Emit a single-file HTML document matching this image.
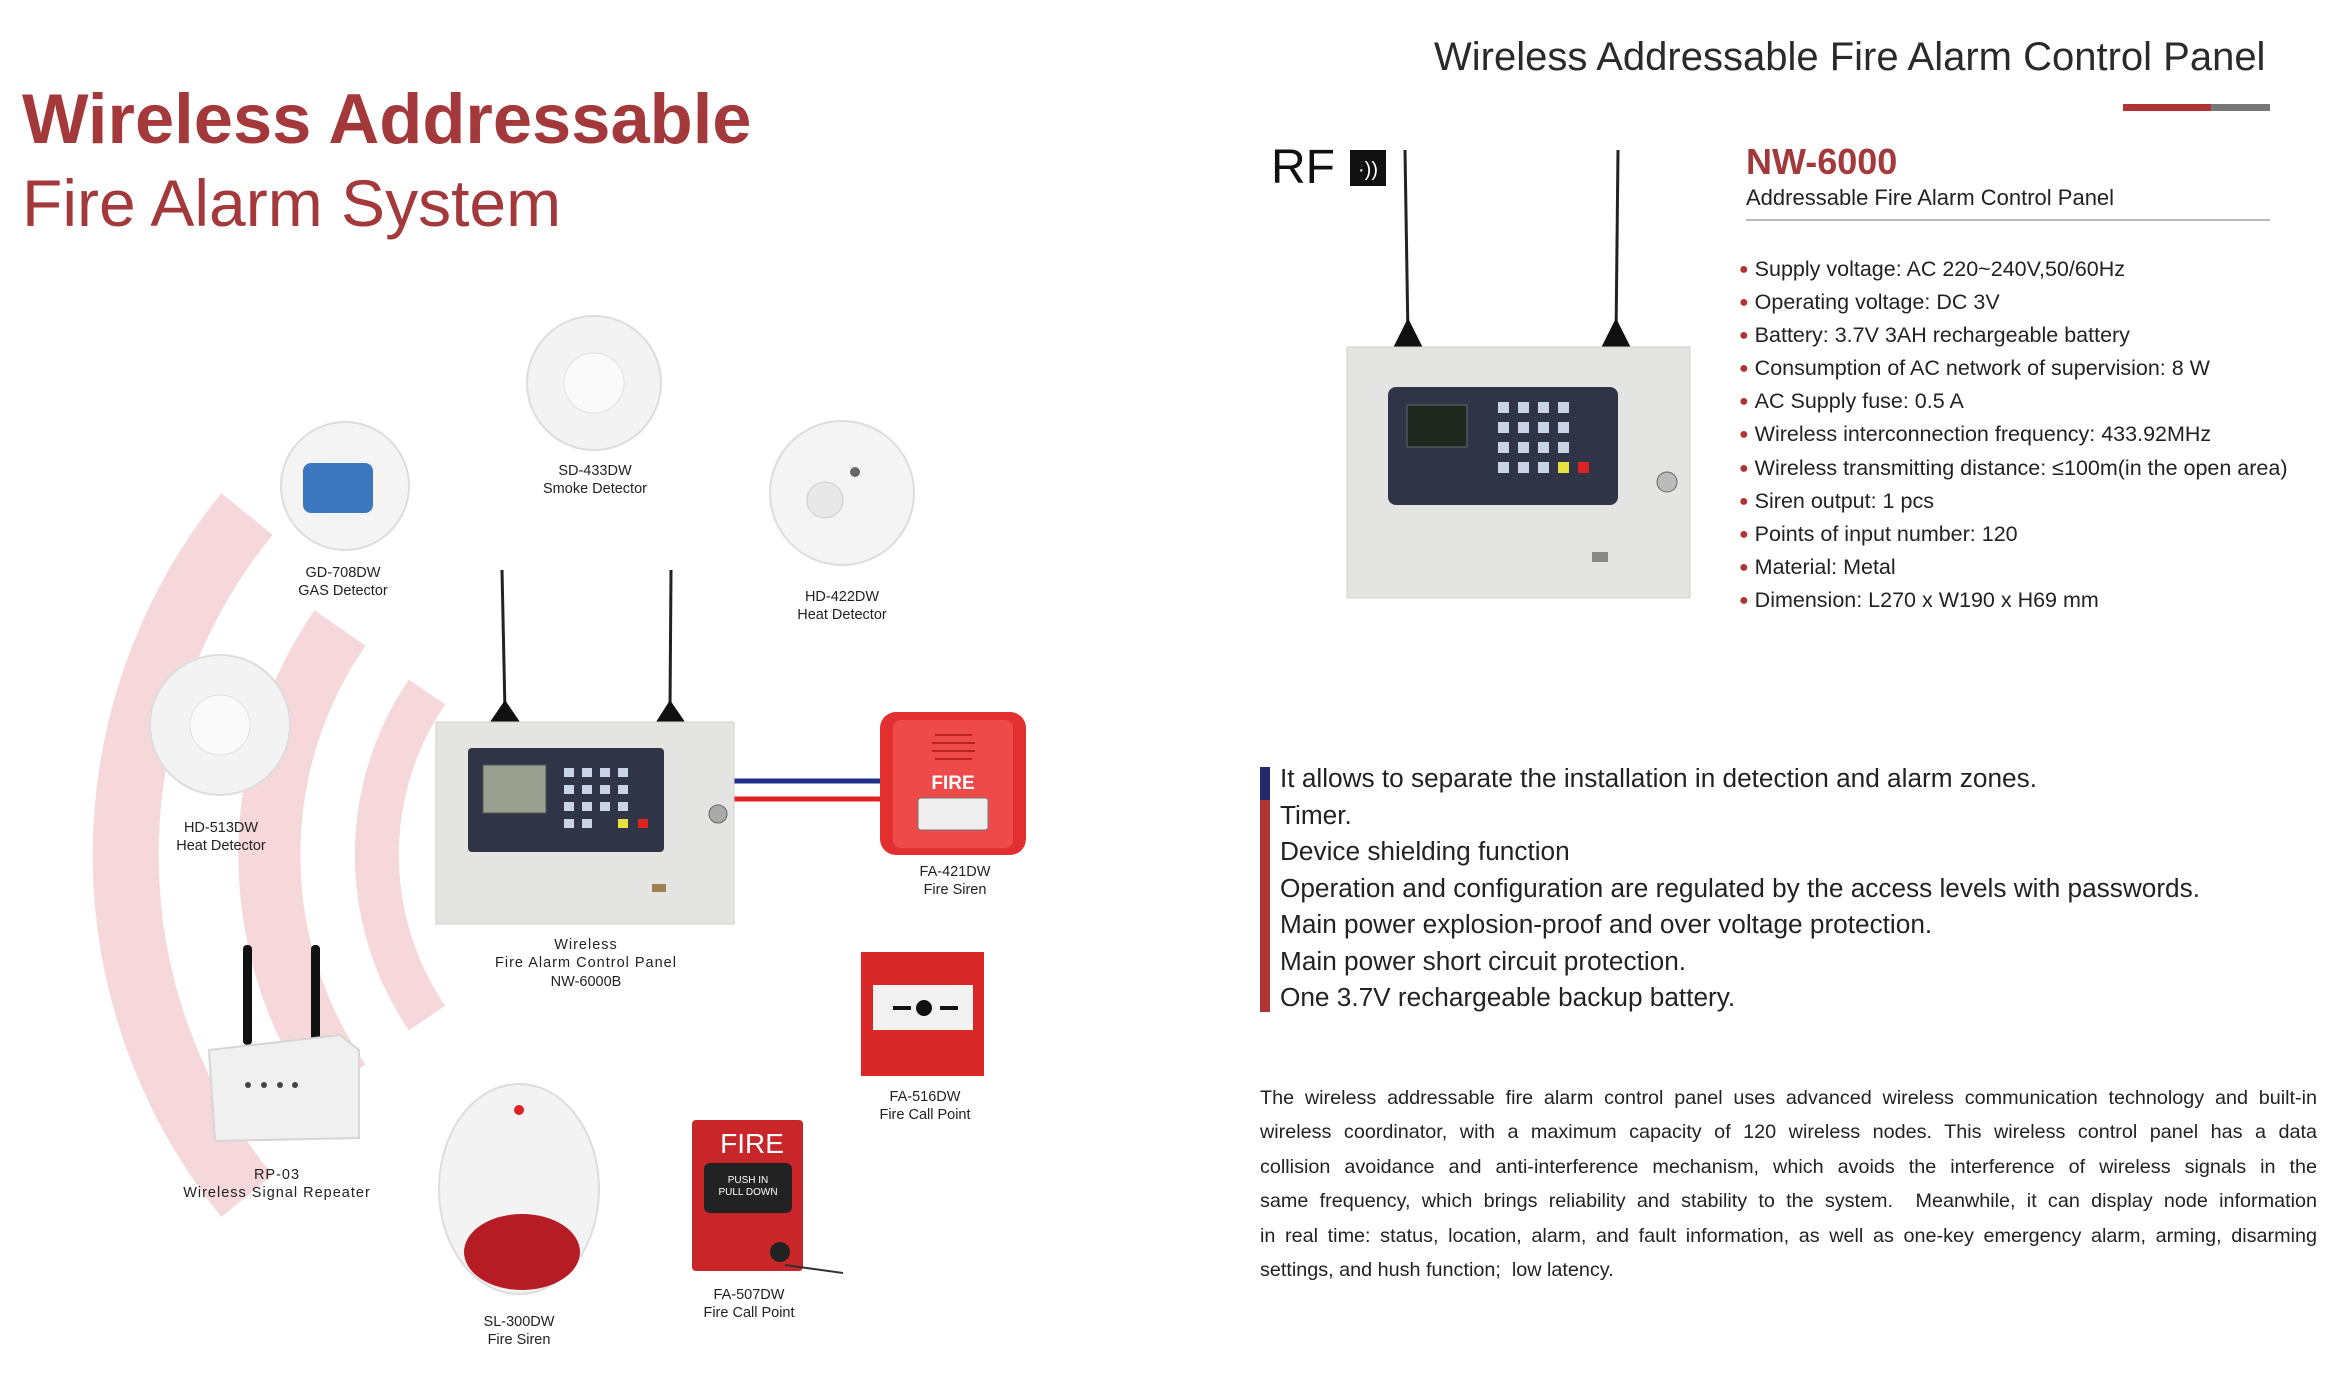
<!DOCTYPE html>
<html><head><meta charset="utf-8">
<style>
body{margin:0;width:2332px;height:1396px;background:#fff;position:relative;overflow:hidden;font-family:"Liberation Sans",sans-serif;}
.a{position:absolute;white-space:nowrap}
.lbl{position:absolute;font-size:14.5px;color:#222;text-align:center;line-height:18px;transform:translateX(-50%);white-space:nowrap}
.b{font-size:21.5px;color:#222;line-height:30.1px}
.b span{color:#b03434;font-size:16px;margin-right:6px;position:relative;top:-2px}
.f{font-size:26.2px;color:#222;line-height:36.5px}
.p div{text-align:justify;text-align-last:justify}
.p div.l{text-align-last:left}
</style></head><body>
<svg width="2332" height="1396" style="position:absolute;left:0;top:0">
 <g fill="none" stroke="#f6d8da" stroke-linecap="butt">
  <path d="M 247 514 A 540 540 0 0 0 247 1196" stroke-width="66"/>
  <path d="M 340 628 A 400 400 0 0 0 340 1082" stroke-width="62"/>
  <path d="M 427 692 A 290 290 0 0 0 427 1018" stroke-width="44"/>
 </g>
 <line x1="734" y1="781" x2="884" y2="781" stroke="#1f2f8a" stroke-width="5"/>
 <line x1="734" y1="799" x2="884" y2="799" stroke="#e02222" stroke-width="5"/>
 <line x1="502" y1="570" x2="505" y2="712" stroke="#222" stroke-width="3"/>
 <line x1="671" y1="570" x2="670" y2="712" stroke="#222" stroke-width="3"/>
 <path d="M490 722 L505 700 L520 722Z" fill="#111"/><path d="M656 722 L670 700 L685 722Z" fill="#111"/>
 <rect x="436" y="722" width="298" height="202" fill="#e4e4e2" stroke="#cfcfcd"/>
 <rect x="468" y="748" width="196" height="104" rx="4" fill="#2f3546"/>
 <rect x="483" y="765" width="63" height="48" fill="#9aa08f" stroke="#555"/>
 <g fill="#c9d3e6"><rect x="564" y="768" width="10" height="9"/><rect x="582" y="768" width="10" height="9"/><rect x="600" y="768" width="10" height="9"/><rect x="618" y="768" width="10" height="9"/>
 <rect x="564" y="785" width="10" height="9"/><rect x="582" y="785" width="10" height="9"/><rect x="600" y="785" width="10" height="9"/><rect x="618" y="785" width="10" height="9"/>
 <rect x="564" y="802" width="10" height="9"/><rect x="582" y="802" width="10" height="9"/><rect x="600" y="802" width="10" height="9"/><rect x="618" y="802" width="10" height="9"/>
 <rect x="564" y="819" width="10" height="9"/><rect x="582" y="819" width="10" height="9"/></g>
 <rect x="618" y="819" width="10" height="9" fill="#e8e040"/><rect x="638" y="819" width="10" height="9" fill="#d22"/>
 <circle cx="718" cy="814" r="9" fill="#aaa" stroke="#666"/>
 <rect x="652" y="884" width="14" height="8" fill="#a08050"/>
 <line x1="1405" y1="150" x2="1408" y2="338" stroke="#222" stroke-width="3"/>
 <line x1="1618" y1="150" x2="1616" y2="338" stroke="#222" stroke-width="3"/>
 <path d="M1392 350 L1408 318 L1424 350Z" fill="#111"/><path d="M1600 350 L1616 318 L1632 350Z" fill="#111"/>
 <rect x="1347" y="347" width="343" height="251" fill="#e4e4e2" stroke="#cfcfcd"/>
 <rect x="1388" y="387" width="230" height="118" rx="8" fill="#2f3546"/>
 <rect x="1407" y="405" width="60" height="42" fill="#202820" stroke="#666"/>
 <g fill="#c9d3e6"><rect x="1498" y="402" width="11" height="11"/><rect x="1518" y="402" width="11" height="11"/><rect x="1538" y="402" width="11" height="11"/><rect x="1558" y="402" width="11" height="11"/>
 <rect x="1498" y="422" width="11" height="11"/><rect x="1518" y="422" width="11" height="11"/><rect x="1538" y="422" width="11" height="11"/><rect x="1558" y="422" width="11" height="11"/>
 <rect x="1498" y="442" width="11" height="11"/><rect x="1518" y="442" width="11" height="11"/><rect x="1538" y="442" width="11" height="11"/><rect x="1558" y="442" width="11" height="11"/>
 <rect x="1498" y="462" width="11" height="11"/><rect x="1518" y="462" width="11" height="11"/><rect x="1538" y="462" width="11" height="11"/></g>
 <rect x="1558" y="462" width="11" height="11" fill="#e8e040"/><rect x="1578" y="462" width="11" height="11" fill="#d22"/>
 <circle cx="1667" cy="482" r="10" fill="#bbb" stroke="#666"/>
 <rect x="1592" y="552" width="16" height="10" fill="#888"/>
 <circle cx="594" cy="383" r="67" fill="#f3f3f3" stroke="#ddd" stroke-width="2"/><circle cx="594" cy="383" r="30" fill="#fafafa" stroke="#e0e0e0"/>
 <circle cx="345" cy="486" r="64" fill="#f4f4f4" stroke="#ddd" stroke-width="2"/><rect x="303" y="463" width="70" height="50" rx="8" fill="#3b78c0"/>
 <circle cx="842" cy="493" r="72" fill="#f4f4f4" stroke="#ddd" stroke-width="2"/><circle cx="825" cy="500" r="18" fill="#e8e8e8" stroke="#ccc"/><circle cx="855" cy="472" r="5" fill="#666"/>
 <circle cx="220" cy="725" r="70" fill="#f3f3f3" stroke="#ddd" stroke-width="2"/><circle cx="220" cy="725" r="30" fill="#fafafa" stroke="#e0e0e0"/>
 <rect x="880" y="712" width="146" height="143" rx="16" fill="#e23030"/>
 <rect x="893" y="720" width="120" height="128" rx="8" fill="#ef4a4a"/>
 <text x="953" y="789" font-family="Liberation Sans" font-weight="bold" font-size="19" fill="#fff" text-anchor="middle">FIRE</text>
 <rect x="918" y="798" width="70" height="32" rx="3" fill="#eee" stroke="#777"/>
 <g stroke="#b22" stroke-width="2"><line x1="935" y1="735" x2="972" y2="735"/><line x1="932" y1="743" x2="975" y2="743"/><line x1="932" y1="751" x2="975" y2="751"/><line x1="935" y1="759" x2="972" y2="759"/></g>
 <rect x="861" y="952" width="123" height="124" fill="#d82828"/>
 <rect x="873" y="985" width="100" height="45" fill="#f2f2f2"/>
 <circle cx="924" cy="1008" r="8" fill="#111"/><path d="M893 1008 h18 M940 1008 h18" stroke="#111" stroke-width="4"/>
 <rect x="243" y="945" width="9" height="100" rx="4" fill="#111"/><rect x="311" y="945" width="9" height="100" rx="4" fill="#111"/>
 <path d="M209 1050 L340 1035 L359 1050 L359 1138 L215 1141Z" fill="#f0f0f0" stroke="#d6d6d6" stroke-width="2"/>
 <g fill="#444"><circle cx="248" cy="1085" r="3"/><circle cx="264" cy="1085" r="3"/><circle cx="280" cy="1085" r="3"/><circle cx="295" cy="1085" r="3"/></g>
 <ellipse cx="519" cy="1189" rx="80" ry="105" fill="#f3f3f3" stroke="#ddd" stroke-width="2"/>
 <ellipse cx="522" cy="1252" rx="58" ry="38" fill="#b51c24"/><circle cx="519" cy="1110" r="5" fill="#d22"/>
 <rect x="692" y="1120" width="111" height="151" rx="4" fill="#c9262a"/>
 <text x="752" y="1153" font-family="Liberation Sans" font-size="28" fill="#fff" text-anchor="middle">FIRE</text>
 <rect x="704" y="1163" width="88" height="50" rx="6" fill="#222"/>
 <text x="748" y="1183" font-family="Liberation Sans" font-size="10" fill="#fff" text-anchor="middle">PUSH IN</text>
 <text x="748" y="1195" font-family="Liberation Sans" font-size="10" fill="#fff" text-anchor="middle">PULL DOWN</text>
 <circle cx="780" cy="1252" r="10" fill="#222"/><line x1="785" y1="1265" x2="843" y2="1273" stroke="#333" stroke-width="2"/>
 <rect x="1350" y="150" width="36" height="36" fill="#111"/>
 <text x="1368" y="176" font-family="Liberation Sans" font-size="20" fill="#fff" text-anchor="middle">·))</text>
 <rect x="2123" y="104" width="88" height="7" fill="#b03434"/><rect x="2211" y="104" width="59" height="7" fill="#777"/>
 <line x1="1746" y1="220" x2="2270" y2="220" stroke="#bbb" stroke-width="2"/>
 <rect x="1260" y="767" width="10" height="33" fill="#232a6a"/><rect x="1260" y="800" width="10" height="212" fill="#b03434"/>
</svg>

<div class="a" style="left:22px;top:78px;font-size:70.5px;font-weight:bold;color:#a3393b;">Wireless Addressable</div>
<div class="a" style="left:22px;top:165px;font-size:66px;color:#a3393b;">Fire Alarm System</div>
<div class="a" style="left:1434px;top:35px;font-size:40px;color:#2a2a2a;">Wireless Addressable Fire Alarm Control Panel</div>
<div class="a" style="left:1271px;top:140px;font-size:48px;color:#111;">RF</div>
<div class="a" style="left:1746px;top:141px;font-size:36px;font-weight:bold;color:#a3393b;">NW-6000</div>
<div class="a" style="left:1746px;top:185px;font-size:22px;color:#222;">Addressable Fire Alarm Control Panel</div>

<div class="a" style="left:1739px;top:254px;">
<div class="b"><span>●</span>Supply voltage: AC 220~240V,50/60Hz</div>
<div class="b"><span>●</span>Operating voltage: DC 3V</div>
<div class="b"><span>●</span>Battery: 3.7V 3AH rechargeable battery</div>
<div class="b"><span>●</span>Consumption of AC network of supervision: 8 W</div>
<div class="b"><span>●</span>AC Supply fuse: 0.5 A</div>
<div class="b"><span>●</span>Wireless interconnection frequency: 433.92MHz</div>
<div class="b"><span>●</span>Wireless transmitting distance: ≤100m(in the open area)</div>
<div class="b"><span>●</span>Siren output: 1 pcs</div>
<div class="b"><span>●</span>Points of input number: 120</div>
<div class="b"><span>●</span>Material: Metal</div>
<div class="b"><span>●</span>Dimension: L270 x W190 x H69 mm</div>
</div>

<div class="a" style="left:1280px;top:760px;">
<div class="f">It allows to separate the installation in detection and alarm zones.</div>
<div class="f">Timer.</div>
<div class="f">Device shielding function</div>
<div class="f">Operation and configuration are regulated by the access levels with passwords.</div>
<div class="f">Main power explosion-proof and over voltage protection.</div>
<div class="f">Main power short circuit protection.</div>
<div class="f">One 3.7V rechargeable backup battery.</div>
</div>

<div class="a p" style="left:1260px;top:1081px;width:1057px;font-size:19.8px;line-height:34.4px;color:#222;">
<div>The wireless addressable fire alarm control panel uses advanced wireless communication technology and built-in</div>
<div>wireless coordinator, with a maximum capacity of 120 wireless nodes. This wireless control panel has a data</div>
<div>collision avoidance and anti-interference mechanism, which avoids the interference of wireless signals in the</div>
<div>same frequency, which brings reliability and stability to the system.&nbsp; Meanwhile, it can display node information</div>
<div>in real time: status, location, alarm, and fault information, as well as one-key emergency alarm, arming, disarming</div>
<div class="l">settings, and hush function;&nbsp; low latency.</div>
</div>

<div class="lbl" style="left:595px;top:462px;">SD-433DW<br>Smoke Detector</div>
<div class="lbl" style="left:343px;top:564px;">GD-708DW<br>GAS Detector</div>
<div class="lbl" style="left:842px;top:588px;">HD-422DW<br>Heat Detector</div>
<div class="lbl" style="left:221px;top:819px;">HD-513DW<br>Heat Detector</div>
<div class="lbl" style="left:586px;top:936px;letter-spacing:1px;">Wireless<br>Fire Alarm Control Panel</div>
<div class="lbl" style="left:586px;top:973px;">NW-6000B</div>
<div class="lbl" style="left:955px;top:863px;">FA-421DW<br>Fire Siren</div>
<div class="lbl" style="left:925px;top:1088px;">FA-516DW<br>Fire Call Point</div>
<div class="lbl" style="left:277px;top:1166px;letter-spacing:1px;">RP-03<br>Wireless Signal Repeater</div>
<div class="lbl" style="left:519px;top:1313px;">SL-300DW<br>Fire Siren</div>
<div class="lbl" style="left:749px;top:1286px;">FA-507DW<br>Fire Call Point</div>
</body></html>
